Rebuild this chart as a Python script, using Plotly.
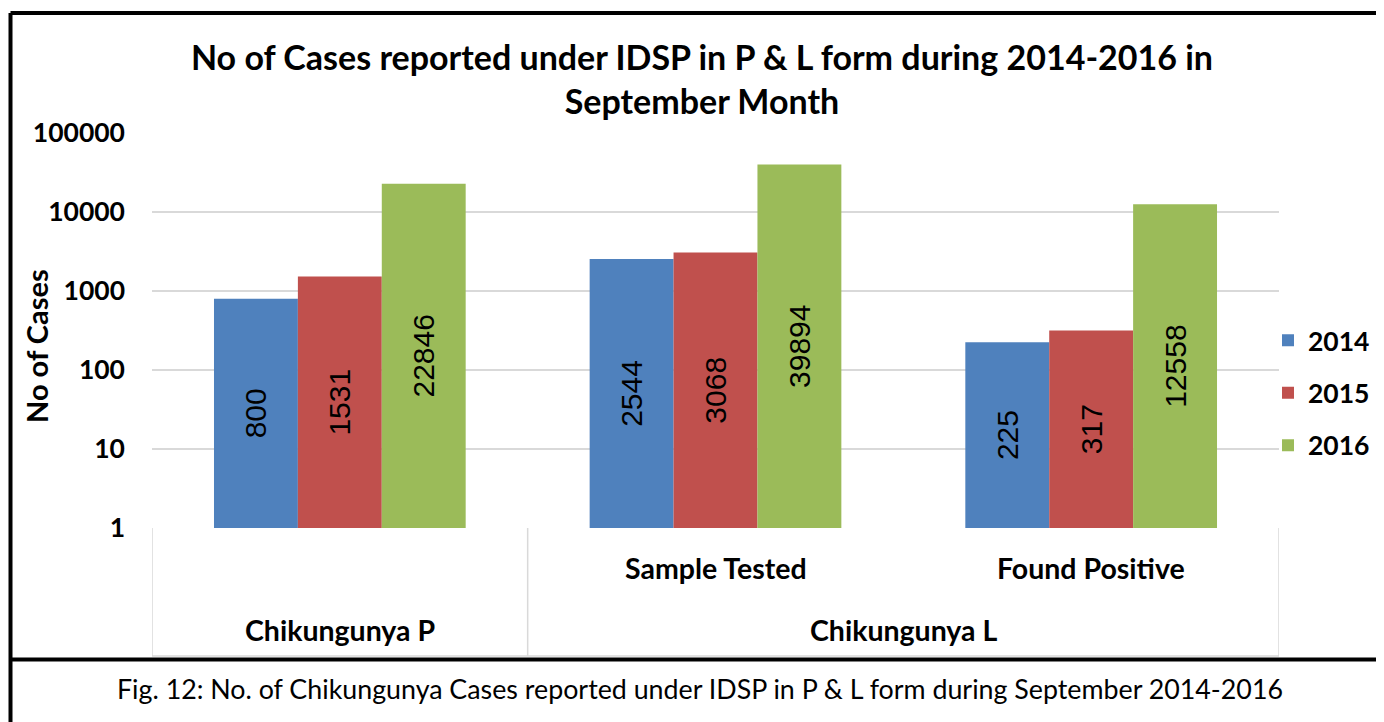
import plotly.graph_objects as go

# ---- data ----
groups = ["Chikungunya P", "Chikungunya L", "Chikungunya L"]
subcats = ["", "Sample Tested", "Found Positive"]
years = ["2014", "2015", "2016"]
values_2014 = [800, 2544, 225]
values_2015 = [1531, 3068, 317]
values_2016 = [22846, 39894, 12558]
ytick_vals = [1, 10, 100, 1000, 10000, 100000]
ytick_text = ["1", "10", "100", "1000", "10000", "100000"]

colors = ["#4F81BD", "#C0504D", "#9BBB59"]
series = [values_2014, values_2015, values_2016]
x_keys = [f"{g}|{s}" for g, s in zip(groups, subcats)]

# page has an 8px body margin; all layout numbers below are page pixels
O = 8
W, H = 1384 - O, 722 - O
L, R, T, B = 152, 1279, 133, 528   # plot area in page pixels
PW, PH = R - L, B - T


def px(x):
    return (x - L) / PW


def py(y):
    return (B - y) / PH


BOLD = "Lato"

fig = go.Figure()
for i, (yr, vals) in enumerate(zip(years, series)):
    fig.add_trace(go.Bar(
        x=x_keys, y=vals, name=yr,
        marker=dict(color=colors[i], line=dict(width=0)),
        text=[str(v) for v in vals], texttemplate="%{text}",
        textposition="inside", insidetextanchor="middle", textangle=-90,
        insidetextfont=dict(family="Liberation Sans", size=30, color="black"),
        constraintext="none", legendgroup=yr,
    ))

shapes = []
grid_c = "#D9D9D9"
# category axis box
box_bottom = py(656)
for xv in [-0.5, 0.5, 2.5]:
    shapes.append(dict(type="line", xref="x", yref="paper", x0=xv, x1=xv,
                       y0=0, y1=box_bottom, line=dict(color=grid_c, width=1.5)))
shapes.append(dict(type="line", xref="paper", yref="paper", x0=0, x1=1,
                   y0=box_bottom, y1=box_bottom, line=dict(color=grid_c, width=1.5)))
# outer frame
fx0, fx1 = px(10.5), px(1500)
fy_top, fy_sep, fy_bot = py(13), py(659.5), py(800)
shapes.append(dict(type="line", xref="paper", yref="paper", x0=fx0, x1=fx0,
                   y0=fy_bot, y1=fy_top, line=dict(color="black", width=4)))
shapes.append(dict(type="line", xref="paper", yref="paper", x0=fx0, x1=fx1,
                   y0=fy_top, y1=fy_top, line=dict(color="black", width=4)))
shapes.append(dict(type="line", xref="paper", yref="paper", x0=fx0, x1=fx1,
                   y0=fy_sep, y1=fy_sep, line=dict(color="black", width=4)))

annotations = []
common = dict(showarrow=False, xanchor="center", yanchor="middle")
for k, s in zip(x_keys, subcats):
    if s:
        annotations.append(dict(text=f"<b>{s}</b>", x=k, xref="x", y=py(568), yref="paper",
                                font=dict(family=BOLD, size=28.5, color="black"), **common))
# group labels
annotations.append(dict(text=f"<b>{groups[0]}</b>", x=0, xref="x", y=py(630), yref="paper",
                        font=dict(family=BOLD, size=28.5, color="black"), **common))
annotations.append(dict(text=f"<b>{groups[1]}</b>", x=1.5, xref="x", y=py(630), yref="paper",
                        font=dict(family=BOLD, size=28.5, color="black"), **common))
# y axis title
annotations.append(dict(text="<b>No of Cases</b>", x=px(36), xref="paper", y=py(346), yref="paper",
                        textangle=-90, font=dict(family=BOLD, size=29, color="black"), **common))
# caption
annotations.append(dict(text="Fig. 12: No. of Chikungunya Cases reported under IDSP in P & L form during September 2014-2016",
                        x=px(700), xref="paper", y=py(689), yref="paper",
                        font=dict(family="Lato", size=26.8, color="black"), **common))

fig.update_layout(
    width=W, height=H,
    margin=dict(l=L - O, r=W - (R - O), t=T - O, b=H - (B - O), autoexpand=False),
    paper_bgcolor="white", plot_bgcolor="white",
    title=dict(text="<b>No of Cases reported under IDSP in P & L form during 2014-2016 in<br>September Month</b>",
               x=(702 - O) / W, xref="container", xanchor="center",
               y=1 - (70 - O) / H, yref="container", yanchor="middle",
               font=dict(family=BOLD, size=34, color="black")),
    barmode="group", bargap=0.33, bargroupgap=0,
    xaxis=dict(showticklabels=False, ticks="", showgrid=False, zeroline=False,
               showline=False, range=[-0.5, 2.5]),
    yaxis=dict(type="log", range=[0, 5], tickvals=ytick_vals, ticktext=ytick_text,
               showgrid=True, gridcolor=grid_c, gridwidth=1.5, zeroline=False, showline=False,
               ticks="", ticklabelstandoff=26,
               tickfont=dict(family=BOLD, size=26.5, color="black", weight="bold")),
    legend=dict(x=px(1268), xanchor="left", y=py(393), yanchor="middle",
                font=dict(family=BOLD, size=26.5, color="black", weight="bold"),
                tracegroupgap=15, traceorder="grouped", bgcolor="rgba(0,0,0,0)"),
    shapes=shapes, annotations=annotations, showlegend=True,
)

fig.write_html("out.html")
